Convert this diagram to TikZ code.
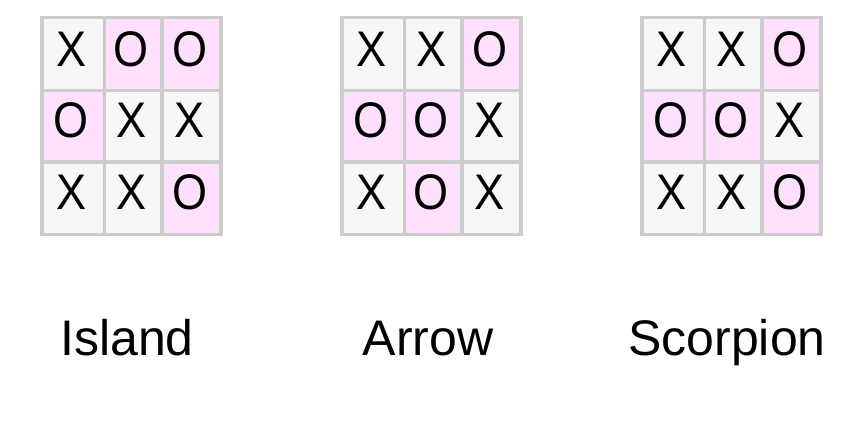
\documentclass[tikz,border=0pt]{standalone}
\usepackage{fontspec}
\setmainfont{Liberation Sans}
\definecolor{cellgray}{HTML}{F7F7F7}
\definecolor{cellpink}{HTML}{FFE0FF}
\definecolor{linegray}{HTML}{CCCCCC}
\tikzset{
  cellbox/.style={draw=linegray, line width=3.5pt, inner sep=0pt, outer sep=0pt},
  glyph/.style={inner sep=0pt, font=\fontsize{50}{54}\selectfont},
  caption/.style={inner sep=0pt, anchor=base, font=\fontsize{50}{56}\selectfont}
}
\newcommand\tttgrid[3]{%
  \foreach \L [count=\i from 0] in {#3}{%
    \pgfmathtruncatemacro\c{mod(\i,3)}%
    \pgfmathtruncatemacro\r{div(\i,3)}%
    \pgfmathsetmacro\xa{#2+{42,104.5,162,221}[\c]}%
    \pgfmathsetmacro\xb{#2+{42,104.5,162,221}[\c+1]}%
    \pgfmathsetmacro\ya{{17.5,90.5,162,234.5}[\r]}%
    \pgfmathsetmacro\yb{{17.5,90.5,162,234.5}[\r+1]}%
    \pgfmathsetmacro\w{\xb-\xa}%
    \pgfmathsetmacro\h{\yb-\ya}%
    \pgfmathsetmacro\cx{(\xa+\xb)/2}%
    \pgfmathsetmacro\cy{(\ya+\yb)/2}%
    \pgfmathsetmacro\tx{\cx-2}%
    \pgfmathsetmacro\ty{{49,120,192}[\r]}%
    \if\L O\def\cf{cellpink}\else\def\cf{cellgray}\fi
    \node[cellbox, fill=\cf, minimum width=\w pt, minimum height=\h pt] (#1c\c r\r) at (\cx,\cy) {};
    \node[glyph] (#1t\c r\r) at (\tx,\ty) {\scalebox{0.9}[1]{\L}};
  }%
}
\begin{document}
\begin{tikzpicture}[x=1pt, y=-1pt]
  \useasboundingbox (0,0) rectangle (858,433);
  \tttgrid{a}{0}{X,O,O,O,X,X,X,X,O}
  \tttgrid{b}{300}{X,X,O,O,O,X,X,O,X}
  \tttgrid{c}{600}{X,X,O,O,O,X,X,X,O}
  \node[caption] (capa) at (127,355) {Island};
  \node[caption] (capb) at (428,355) {Arrow};
  \node[caption] (capc) at (727,355) {Scorpion};
\end{tikzpicture}
\end{document}
